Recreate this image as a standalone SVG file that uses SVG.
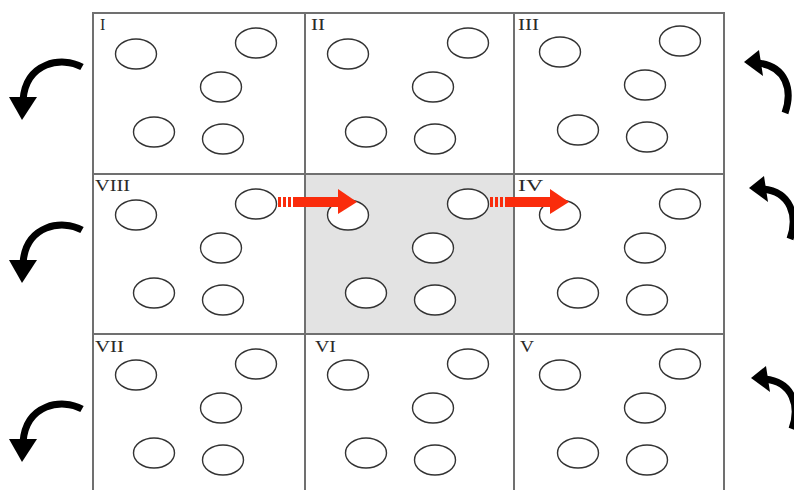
<svg xmlns="http://www.w3.org/2000/svg" xmlns:xlink="http://www.w3.org/1999/xlink" width="794" height="490" viewBox="0 0 794 490">
<style>
.grid{stroke:#707070;stroke-width:2;fill:none}
.dot{fill:#fff;stroke:#333;stroke-width:1.4}
.lbl{font-family:"Liberation Serif","Times New Roman",serif;font-size:16px;fill:#2a2a2a}
.curve{fill:none;stroke:#000;stroke-width:7;stroke-linecap:butt}
.head{fill:#000}
.red{fill:#fa2c0c}
</style>
<defs>
<g id="dots">
<ellipse class="dot" cx="43" cy="41" rx="20.5" ry="15"/>
<ellipse class="dot" cx="163" cy="30" rx="20.5" ry="15"/>
<ellipse class="dot" cx="128" cy="74" rx="20.5" ry="15"/>
<ellipse class="dot" cx="61" cy="119" rx="20.5" ry="15"/>
<ellipse class="dot" cx="130" cy="126" rx="20.5" ry="15"/>
</g>
<g id="redArrow">
<rect class="red" x="0" y="-5" width="3" height="10"/>
<rect class="red" x="5" y="-5" width="3" height="10"/>
<rect class="red" x="10" y="-5" width="3" height="10"/>
<rect class="red" x="15" y="-5" width="48" height="10"/>
<polygon class="red" points="60,-13 79,0 60,12"/>
</g>
<g id="leftArrow">
<path class="curve" d="M82,67 C62,56 26,62 23,100"/>
<polygon class="head" points="9,97 37,97 22,120"/>
</g>
<g id="rightArrow">
<path class="curve" d="M785,113 C793,90 786,66 758,63"/>
<polygon class="head" points="744,62 759,50 763,76"/>
</g>
</defs>

<rect id="center-shade" x="305" y="174" width="209" height="160" fill="#e3e3e3"/>

<g id="grid">
<line class="grid" x1="93" y1="13" x2="724" y2="13"/>
<line class="grid" x1="93" y1="174" x2="724" y2="174"/>
<line class="grid" x1="93" y1="334" x2="724" y2="334"/>
<line class="grid" x1="93" y1="12" x2="93" y2="490"/>
<line class="grid" x1="305" y1="12" x2="305" y2="490"/>
<line class="grid" x1="514" y1="12" x2="514" y2="490"/>
<line class="grid" x1="724" y1="12" x2="724" y2="490"/>
</g>

<g id="cell-I"><use xlink:href="#dots" x="93" y="13"/><text class="lbl" x="100" y="30">I</text></g>
<g id="cell-II"><use xlink:href="#dots" x="305" y="13"/><text class="lbl" x="311" y="30" textLength="14" lengthAdjust="spacingAndGlyphs">II</text></g>
<g id="cell-III"><use xlink:href="#dots" x="517" y="11"/><text class="lbl" x="518" y="30" textLength="21" lengthAdjust="spacingAndGlyphs">III</text></g>
<g id="cell-VIII"><use xlink:href="#dots" x="93" y="174"/><text class="lbl" x="95" y="191" textLength="35" lengthAdjust="spacingAndGlyphs">VIII</text></g>
<g id="cell-center"><use xlink:href="#dots" x="305" y="174"/></g>
<g id="cell-IV"><use xlink:href="#dots" x="517" y="174"/><text class="lbl" x="518" y="191" textLength="25" lengthAdjust="spacingAndGlyphs">IV</text></g>
<g id="cell-VII"><use xlink:href="#dots" x="93" y="334"/><text class="lbl" x="95" y="352" textLength="29" lengthAdjust="spacingAndGlyphs">VII</text></g>
<g id="cell-VI"><use xlink:href="#dots" x="305" y="334"/><text class="lbl" x="315" y="352" textLength="21" lengthAdjust="spacingAndGlyphs">VI</text></g>
<g id="cell-V"><use xlink:href="#dots" x="517" y="334"/><text class="lbl" x="520" y="352" textLength="14" lengthAdjust="spacingAndGlyphs">V</text></g>

<g id="connectors">
<use xlink:href="#redArrow" transform="translate(278,202)"/>
<use xlink:href="#redArrow" transform="translate(490,202)"/>
<use xlink:href="#leftArrow"/>
<use xlink:href="#leftArrow" transform="translate(0,163)"/>
<use xlink:href="#leftArrow" transform="translate(0,342)"/>
<use xlink:href="#rightArrow"/>
<use xlink:href="#rightArrow" transform="translate(5,126)"/>
<use xlink:href="#rightArrow" transform="translate(7,316)"/>
</g>
</svg>
